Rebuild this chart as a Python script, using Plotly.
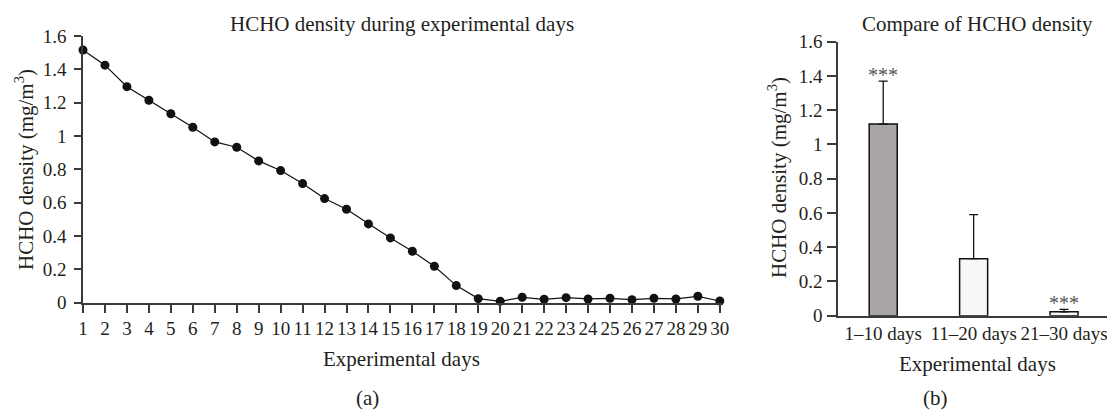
import plotly.graph_objects as go

# ---- data ----
days = list(range(1, 31))
hcho_daily = [1.516, 1.425, 1.296, 1.215, 1.134, 1.053, 0.965, 0.933, 0.851, 0.793,
              0.715, 0.625, 0.561, 0.473, 0.389, 0.309, 0.219, 0.103, 0.025, 0.009,
              0.033, 0.021, 0.031, 0.023, 0.027, 0.019, 0.027, 0.023, 0.039, 0.011]

groups = ["1–10 days", "11–20 days", "21–30 days"]
group_mean = [1.119, 0.333, 0.023]
group_err = [0.251, 0.257, 0.014]
group_sig = ["***", "", "***"]
group_colors = ["#aaa6a6", "#f7f7f7", "#f7f7f7"]

y_ticks = [0, 0.2, 0.4, 0.6, 0.8, 1, 1.2, 1.4, 1.6]
y_ticktext = ["0", "0.2", "0.4", "0.6", "0.8", "1", "1.2", "1.4", "1.6"]

W, H = 1107, 412
FONT = "Liberation Serif"
TXT = "#231f20"
AX = "#3a3a3a"


def px(x):
    return x / W


def py(y):
    return 1 - y / H


fig = go.Figure()

fig.add_trace(go.Scatter(
    x=days, y=hcho_daily, mode="lines+markers",
    line=dict(color="#111", width=1.2),
    marker=dict(color="#111", size=9),
    cliponaxis=False, showlegend=False,
    xaxis="x", yaxis="y"))

fig.add_trace(go.Bar(
    x=groups, y=group_mean, width=0.31,
    marker=dict(color=group_colors, line=dict(color="#111", width=1.5)),
    error_y=dict(type="data", symmetric=False, array=group_err,
                 arrayminus=[0, 0, 0], color="#111", thickness=1.3, width=4.5),
    showlegend=False, xaxis="x2", yaxis="y2"))

axis_common = dict(showline=True, linecolor=AX, linewidth=1.5,
                   tickcolor=AX, tickwidth=1.5, showgrid=False, zeroline=False,
                   automargin=False,
                   tickfont=dict(family=FONT, size=19, color=TXT))

fig.update_layout(
    width=W, height=H, margin=dict(l=0, r=0, t=0, b=0, autoexpand=False),
    paper_bgcolor="white", plot_bgcolor="white",
    font=dict(family=FONT, color=TXT),
    xaxis=dict(domain=[px(83), px(722)], range=[1, 30.1], tickmode="array",
               tickvals=days, ticktext=[str(d) for d in days], ticks="outside",
               ticklen=8, anchor="y", ticklabelstandoff=0, **axis_common),
    yaxis=dict(domain=[py(302.8), py(36)], range=[0, 1.6], tickmode="array",
               tickvals=y_ticks, ticktext=y_ticktext, ticks="outside", ticklen=7,
               anchor="x", ticklabelstandoff=4, **axis_common),
    xaxis2=dict(domain=[px(838), 1.0], range=[-0.5, 2.475], ticks="",
                anchor="y2", ticklabelstandoff=0, **axis_common),
    yaxis2=dict(domain=[py(315.7), py(41.7)], range=[0, 1.6], tickmode="array",
                tickvals=y_ticks, ticktext=y_ticktext, ticks="outside", ticklen=9,
                anchor="x2", ticklabelstandoff=1, **axis_common),
)

ann = []
TF = dict(family=FONT, size=21, color=TXT)


def label(text, x, y, angle=0, yanchor="middle"):
    ann.append(dict(text=text, x=px(x), y=py(y), xref="paper", yref="paper",
                    showarrow=False, font=TF, textangle=angle,
                    xanchor="center", yanchor=yanchor))


label("HCHO density during experimental days", 402, 24)
label("Compare of HCHO density", 977, 24)
label("Experimental days", 401, 359)
label("Experimental days", 977, 364)
label("HCHO density (mg/m<sup>3</sup>)", 24, 170, -90)
label("HCHO density (mg/m<sup>3</sup>)", 777, 178, -90)
label("(a)", 367, 412, yanchor="bottom")
label("(b)", 935, 412, yanchor="bottom")

for g, m, e, s in zip(groups, group_mean, group_err, group_sig):
    if s:
        ann.append(dict(text=s, x=g, y=m + e, xref="x2", yref="y2", showarrow=False,
                        font=dict(family=FONT, size=20, color="#555"),
                        xanchor="center", yanchor="middle", yshift=6))
fig.update_layout(annotations=ann)

fig.write_html("out.html")
